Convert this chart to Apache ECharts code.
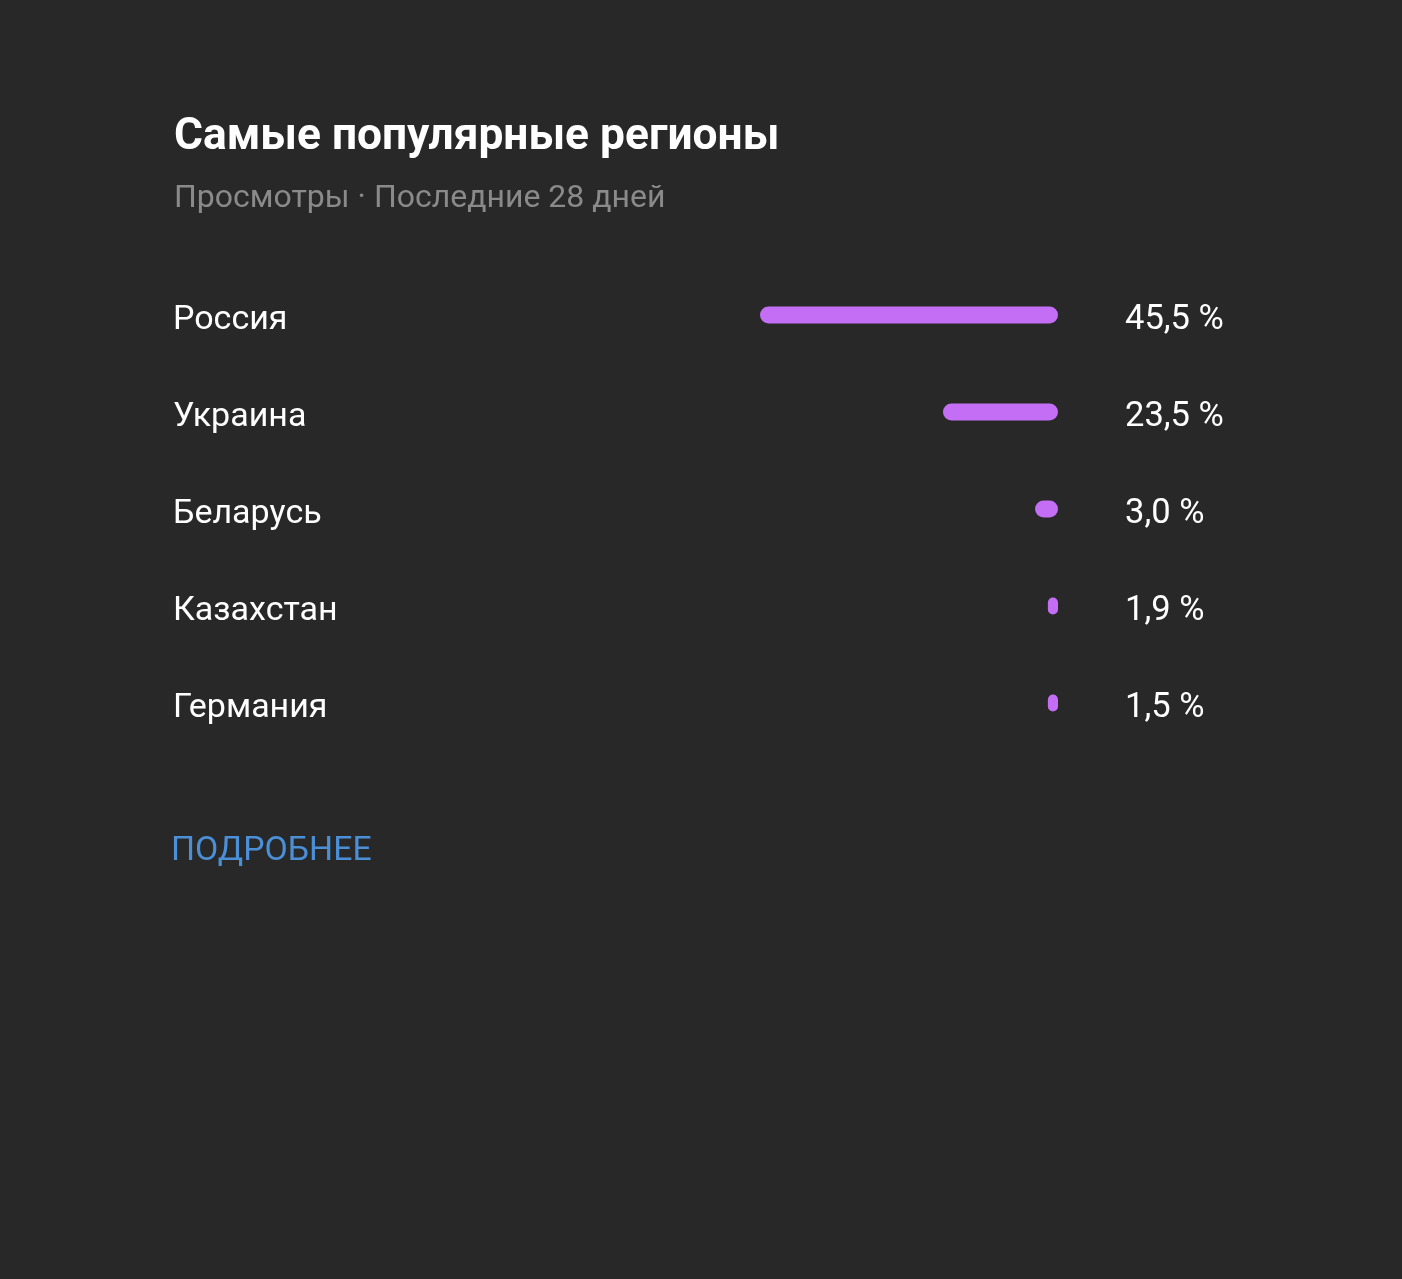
<!DOCTYPE html>
<html>
<head>
<meta charset="utf-8">
<script src="https://cdn.jsdelivr.net/npm/echarts@6/dist/echarts.min.js"></script>
<style>
html,body{margin:0;padding:0;background:#282828;}
#chart{width:1402px;height:1279px;}
</style>
</head>
<body>
<div id="chart"></div>
<script>
const titleText = 'Самые популярные регионы';
const subtitleText = 'Просмотры · Последние 28 дней';
const linkText = 'ПОДРОБНЕЕ';
const regions = ['Россия', 'Украина', 'Беларусь', 'Казахстан', 'Германия'];
const shares = [45.5, 23.5, 3.0, 1.9, 1.5];
// bar lengths, relative to the longest bar (= 100)
const barLengths = [100, 38.6, 7.7, 3.4, 3.4];

const shareLabels = shares.map(v => v.toFixed(1).replace('.', ',') + ' %');
const FONT = 'Roboto, "Noto Sans", sans-serif';

const chart = echarts.init(document.getElementById('chart'), null, {renderer: 'canvas'});
chart.setOption({
  backgroundColor: '#282828',
  animation: false,
  title: [
    {
      text: titleText,
      subtext: subtitleText,
      left: 174,
      top: 112,
      padding: 0,
      itemGap: 16,
      textStyle: {color: '#ffffff', fontFamily: FONT, fontSize: 44.3, fontWeight: 'bold', lineHeight: 52},
      subtextStyle: {color: '#8a8a8a', fontFamily: FONT, fontSize: 32, lineHeight: 38}
    },
    {
      text: linkText,
      left: 171,
      top: 834,
      padding: 0,
      textStyle: {color: '#4b8fd6', fontFamily: FONT, fontSize: 33.8, fontWeight: 'normal', lineHeight: 36}
    }
  ],
  grid: {left: 760, right: 344, top: 266.5, height: 485, containLabel: false},
  xAxis: {type: 'value', min: 0, max: 100, inverse: true, show: false},
  yAxis: [
    {
      type: 'category', data: regions, inverse: true, position: 'left',
      axisLine: {show: false}, axisTick: {show: false}, splitLine: {show: false},
      axisLabel: {color: '#ffffff', fontFamily: FONT, fontSize: 34, align: 'left', margin: 587,
                  verticalAlign: 'top', lineHeight: 11}
    },
    {
      type: 'category', data: shareLabels, inverse: true, position: 'right',
      axisLine: {show: false}, axisTick: {show: false}, splitLine: {show: false},
      axisLabel: {color: '#ffffff', fontFamily: FONT, fontSize: 34.5, align: 'left', margin: 67,
                  verticalAlign: 'top', lineHeight: 10}
    }
  ],
  series: [{
    type: 'bar', data: barLengths, yAxisIndex: 0, barWidth: 17,
    itemStyle: {color: '#c46ef6', borderRadius: 8.5}, silent: true
  }]
});
</script>
</body>
</html>
